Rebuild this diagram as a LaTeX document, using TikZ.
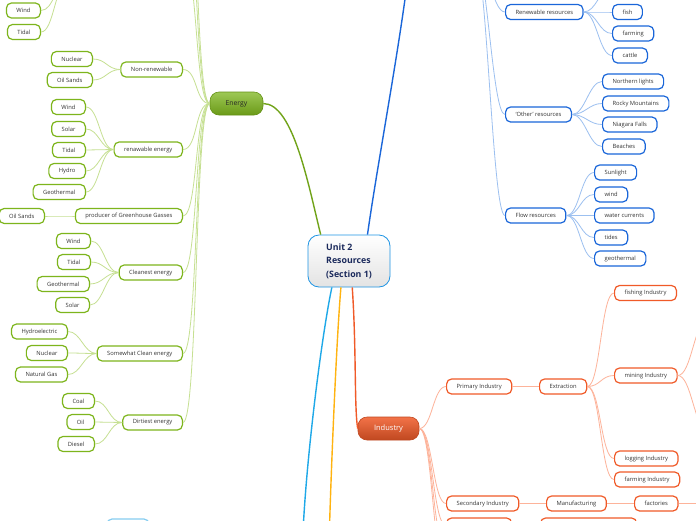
\documentclass[tikz,border=0pt]{standalone}
\usepackage{fontspec}
\setmainfont{Open Sans}
\usetikzlibrary{positioning}
\definecolor{Green}{HTML}{7DB51C}
\definecolor{SoftGreen}{HTML}{C6E092}
\definecolor{Blue}{HTML}{1A66D9}
\definecolor{SoftBlue}{HTML}{9CC0F0}
\definecolor{Red}{HTML}{F05A28}
\definecolor{SoftRed}{HTML}{FDB39A}
\definecolor{Sky}{HTML}{1EA8E8}
\definecolor{SoftSky}{HTML}{86CDF0}
\definecolor{Amber}{HTML}{FFB310}
\definecolor{Navy}{HTML}{1B2A5C}
\definecolor{Ink}{HTML}{333333}

\begin{document}
\begin{tikzpicture}[x=1pt,y=-1pt,
  leaf/.style={rounded corners=5pt,line width=1.2pt,fill=white,text=Ink,font=\fontsize{5.8}{7}\selectfont,inner xsep=10pt,inner ysep=0pt,minimum height=15pt},
  eleaf/.style={leaf,draw=Green,anchor=east},
  rleaf/.style={leaf,draw=Blue,anchor=west},
  ileaf/.style={leaf,draw=Red,anchor=west},
  eline/.style={draw=SoftGreen,line width=0.8pt},
  rline/.style={draw=SoftBlue,line width=0.8pt},
  iline/.style={draw=SoftRed,line width=0.8pt},
  trunk/.style={line width=1.4pt}
]
\useasboundingbox (0,0) rectangle (696,520);
\clip (0,0) rectangle (696,520);
\fill[white] (0,0) rectangle (696,520);

% centre and main topics
\node[draw=Sky!70!Blue,line width=0.8pt,rounded corners=11pt,minimum width=82pt,minimum height=52pt,
  top color=white,bottom color=gray!22,align=left,text=Navy,font=\fontsize{8.8}{13.5}\selectfont\bfseries]
  (unit) at (349,261) {Unit 2\\Resources\\(Section 1)};
\node[draw=Green!80!black,line width=0.6pt,rounded corners=9pt,minimum width=53pt,minimum height=23pt,top color=Green!75!white,bottom color=Green!85!black,
  text=black!85,font=\fontsize{6.8}{8}\selectfont] (energy) at (236.5,103.5) {Energy};
\node[draw=Red!80!black,line width=0.6pt,rounded corners=9pt,minimum width=61pt,minimum height=23pt,top color=Red!85!white,bottom color=Red!80!black,
  text=white,font=\fontsize{7.5}{9}\selectfont] (industry) at (388.5,428.5) {Industry};

% energy
\node[eleaf] (wind0) at (41,10.5) {Wind};
\node[eleaf] (tidal0) at (41,32) {Tidal};
\node[eleaf] (nonren) at (183,69.5) {Non-renewable};
\node[eleaf] (nuc1) at (93,59) {Nuclear};
\node[eleaf] (oils1) at (93,80) {Oil Sands};
\node[eleaf] (renew) at (183,149.5) {renawable energy};
\node[eleaf] (wind1) at (86,107) {Wind};
\node[eleaf] (solar1) at (86,129) {Solar};
\node[eleaf] (tidal1) at (86,150) {Tidal};
\node[eleaf] (hydro1) at (86,171) {Hydro};
\node[eleaf] (geo1) at (86,192) {Geothermal};
\node[eleaf] (ghg) at (183,216) {producer of Greenhouse Gasses};
\node[eleaf] (oils2) at (45,216) {Oil Sands};
\node[eleaf] (cleanest) at (183,272.5) {Cleanest energy};
\node[eleaf] (wind2) at (91,241) {Wind};
\node[eleaf] (tidal2) at (91,262) {Tidal};
\node[eleaf] (geo2) at (90,284) {Geothermal};
\node[eleaf] (solar2) at (90,305) {Solar};
\node[eleaf] (somewhat) at (183,353.5) {Somewhat Clean energy};
\node[eleaf] (hydroel) at (68,331.5) {Hydroelectric};
\node[eleaf] (nuc2) at (68,353) {Nuclear};
\node[eleaf] (gas) at (68,374.5) {Natural Gas};
\node[eleaf] (dirtiest) at (183,422.5) {Dirtiest energy};
\node[eleaf] (coal) at (95,401) {Coal};
\node[eleaf] (oil) at (95,422) {Oil};
\node[eleaf] (diesel) at (95,444) {Diesel};
\coordinate (etop) at (68,-18);
\coordinate (e1) at (183,-40);
\coordinate (e2) at (183,-110);
\coordinate (e3) at (183,-180);

% resources
\node[rleaf] (renres) at (505,12) {Renewable resources};
\node[rleaf] (fish) at (612,12) {fish};
\node[rleaf] (farming) at (612,33.5) {farming};
\node[rleaf] (cattle) at (612,55.5) {cattle};
\node[rleaf] (other) at (505,114.5) {`Other' resources};
\node[rleaf] (northern) at (602,81.5) {Northern lights};
\node[rleaf] (rocky) at (602,103.5) {Rocky Mountains};
\node[rleaf] (niagara) at (602,124.5) {Niagara Falls};
\node[rleaf] (beaches) at (602,146.5) {Beaches};
\node[rleaf] (flow) at (505,215.5) {Flow resources};
\node[rleaf] (sunlight) at (594,172.5) {Sunlight};
\node[rleaf] (wind3) at (594,194.5) {wind};
\node[rleaf] (currents) at (594,215.5) {water currents};
\node[rleaf] (tides) at (594,237.5) {tides};
\node[rleaf] (geo3) at (594,258.5) {geothermal};
\coordinate (rtop) at (474,-45);
\coordinate (rfish) at (612,-12);
\coordinate (rhub) at (412,-60);

% industry
\node[ileaf] (primary) at (446,386.5) {Primary Industry};
\node[ileaf] (extraction) at (539,386.5) {Extraction};
\node[ileaf] (fishind) at (614,293) {fishing Industry};
\node[ileaf] (mining) at (614,375.5) {mining Industry};
\node[ileaf] (logging) at (614,458.5) {logging Industry};
\node[ileaf] (farmind) at (614,479.5) {farming Industry};
\node[ileaf] (secondary) at (446,503.5) {Secondary Industry};
\node[ileaf] (manuf) at (546,503.5) {Manufacturing};
\node[ileaf] (factories) at (634,503.5) {factories};
\node[ileaf,minimum width=65pt] (lowA) at (446,525.5) {};
\node[ileaf,minimum width=96pt] (lowB) at (540,525.5) {};
\coordinate (mineA) at (708,320);
\coordinate (mineB) at (708,430);
\coordinate (factout) at (710,503.5);
\coordinate (i1) at (446,548);
\coordinate (i2) at (446,570);

% other branches
\node[leaf,draw=SoftSky,minimum width=42pt] (skybox) at (128,526.5) {};
\coordinate (skyend) at (303,585);
\coordinate (amberend) at (328,600);

% trunks
\draw[trunk,draw=Green!90!black] (unit.137) to[out=104,in=0,out distance=50pt,in distance=30pt] (energy.east);
\draw[trunk,draw=Blue] (unit.55) to[out=82,in=265,out distance=80pt,in distance=80pt] (rhub);
\draw[trunk,draw=Sky] (unit.237) to[out=258,in=95,out distance=60pt,in distance=60pt] (skyend);
\draw[trunk,draw=Amber] (unit.253) to[out=265,in=90,out distance=60pt,in distance=60pt] (amberend);
\draw[trunk,draw=Red] (unit.277) to[out=274,in=100,out distance=60pt,in distance=20pt] (industry.west);

% branches
\foreach \c in {nonren,renew,ghg,cleanest,somewhat,dirtiest} {
  \draw[eline] (energy.west) to[out=180,in=0,distance=15pt] (\c.east);
}
\foreach \c in {e1,e2,e3} {
  \draw[eline] (energy.west) to[out=180,in=0,distance=15pt] (\c);
}
\foreach \p/\c in {nonren/nuc1,nonren/oils1,renew/wind1,renew/solar1,renew/tidal1,renew/hydro1,renew/geo1,ghg/oils2,cleanest/wind2,cleanest/tidal2,cleanest/geo2,cleanest/solar2,somewhat/hydroel,somewhat/nuc2,somewhat/gas,dirtiest/coal,dirtiest/oil,dirtiest/diesel} {
  \draw[eline] (\p.west) to[out=180,in=0,distance=13pt] (\c.east);
}
\foreach \c in {wind0,tidal0} {
  \draw[eline] (etop) to[out=180,in=0,distance=13pt] (\c.east);
}

\foreach \c in {renres,other,flow} {
  \draw[rline] (rtop) to[out=0,in=180,distance=13pt] (\c.west);
}
\foreach \p/\c in {renres/fish,renres/farming,renres/cattle,other/northern,other/rocky,other/niagara,other/beaches,flow/sunlight,flow/wind3,flow/currents,flow/tides,flow/geo3} {
  \draw[rline] (\p.east) to[out=0,in=180,distance=13pt] (\c.west);
}
\draw[rline] (renres.east) to[out=0,in=180,distance=13pt] (rfish);

\foreach \c in {primary,secondary,lowA} {
  \draw[iline] (industry.east) to[out=0,in=180,distance=13pt] (\c.west);
}
\foreach \c in {i1,i2} {
  \draw[iline] (industry.east) to[out=0,in=180,distance=13pt] (\c);
}
\foreach \c in {fishind,mining,logging,farmind} {
  \draw[iline] (extraction.east) to[out=0,in=180,distance=13pt] (\c.west);
}
\foreach \c in {mineA,mineB} {
  \draw[iline] (mining.east) to[out=0,in=180,distance=14pt] (\c);
}
\draw[iline] (primary) -- (extraction);
\draw[iline] (secondary) -- (manuf);
\draw[iline] (manuf) -- (factories);
\draw[iline] (lowA) -- (lowB);
\draw[iline] (factories.east) -- (factout);
\end{tikzpicture}
\end{document}
